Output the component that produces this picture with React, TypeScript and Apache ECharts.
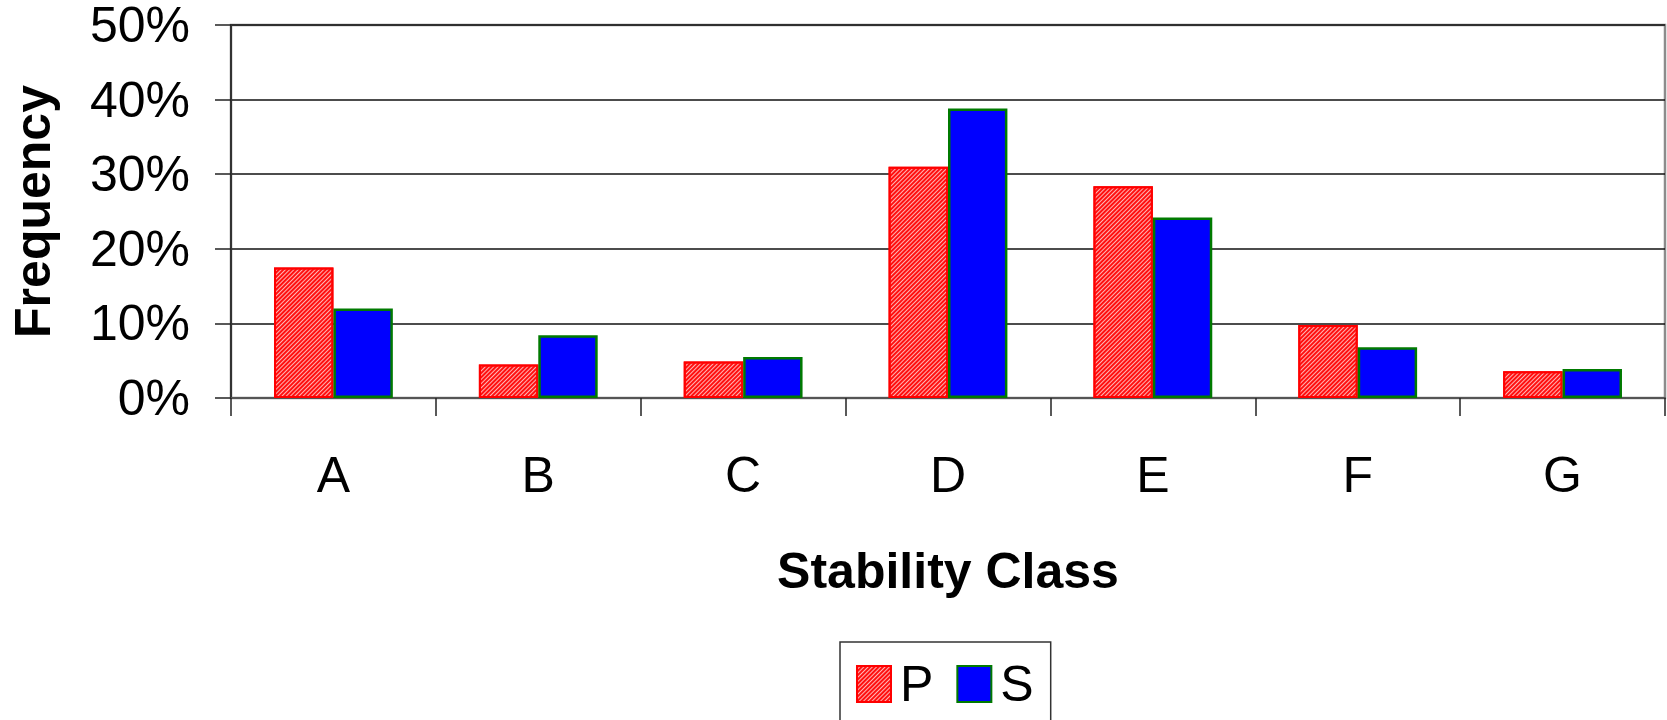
import React, { useEffect, useRef } from "react";
import * as echarts from "echarts";

const categories = ["A", "B", "C", "D", "E", "F", "G"];
const seriesP = [17.5, 4.5, 4.9, 31.0, 28.4, 9.8, 3.6];
const seriesS = [12.0, 8.4, 5.5, 38.8, 24.2, 6.8, 3.9];
const yTicks = { min: 0, max: 50, interval: 10 };

const FONT = "'Liberation Sans', Arial, sans-serif";

export default function App() {
  const ref = useRef<HTMLDivElement>(null);

  useEffect(() => {
    if (!ref.current) return;
    const chart = echarts.init(ref.current, null, { renderer: "svg" });
    chart.setOption({
      animation: false,
      backgroundColor: "#ffffff",
      textStyle: { fontFamily: FONT, color: "#000" },
      grid: {
        left: 228,
        top: 25,
        right: 2,
        bottom: 322,
        show: true,
        borderColor: "#8c8c8c",
        borderWidth: 2.5,
        backgroundColor: "transparent",
      },
      legend: {
        left: 840,
        top: 642,
        padding: [17, 17, 40, 16],
        itemWidth: 34,
        itemHeight: 36,
        itemGap: 23,
        borderColor: "#333",
        borderWidth: 1.5,
        icon: "rect",
        textStyle: { fontSize: 50, fontFamily: FONT, color: "#000", padding: [0, 0, 0, 4] },
        data: ["P", "S"],
      },
      xAxis: {
        type: "category",
        data: categories,
        name: "Stability Class",
        nameLocation: "middle",
        nameGap: 148,
        nameTextStyle: { fontSize: 50, fontWeight: "bold", fontFamily: FONT, color: "#000" },
        axisLine: { lineStyle: { color: "#555", width: 2 } },
        axisTick: { show: true, length: 18, lineStyle: { color: "#222", width: 1.5 } },
        axisLabel: { fontSize: 50, margin: 52, color: "#000", fontFamily: FONT },
      },
      yAxis: {
        type: "value",
        min: yTicks.min,
        max: yTicks.max,
        interval: yTicks.interval,
        name: "Frequency",
        nameLocation: "middle",
        nameGap: 173,
        nameTextStyle: { fontSize: 50, fontWeight: "bold", fontFamily: FONT, color: "#000" },
        axisLine: { show: true, lineStyle: { color: "#333", width: 2 } },
        axisTick: { show: true, length: 16, lineStyle: { color: "#222", width: 1.5 } },
        axisLabel: {
          fontSize: 50,
          lineHeight: 40,
          margin: 41,
          color: "#000",
          fontFamily: FONT,
          formatter: "{value}%",
        },
        splitLine: { show: true, lineStyle: { color: "#111", width: 1.5 } },
      },
      series: [
        {
          name: "P",
          type: "bar",
          data: seriesP,
          barGap: "0%",
          barCategoryGap: "42%",
          itemStyle: {
            color: "#ffb4b4",
            borderColor: "#ff0000",
            borderWidth: 2,
            decal: {
              symbol: "rect",
              symbolSize: 1,
              color: "#ff1010",
              dashArrayX: [1, 0],
              dashArrayY: [2, 1],
              rotation: -Math.PI / 4,
            },
          },
        },
        {
          name: "S",
          type: "bar",
          data: seriesS,
          itemStyle: {
            color: "#0000ff",
            borderColor: "#007a00",
            borderWidth: 2.5,
          },
        },
      ],
    });
    return () => chart.dispose();
  }, []);

  return (
    <div
      ref={ref}
      style={{ position: "fixed", left: 0, top: 0, width: 1667, height: 720 }}
    />
  );
}
